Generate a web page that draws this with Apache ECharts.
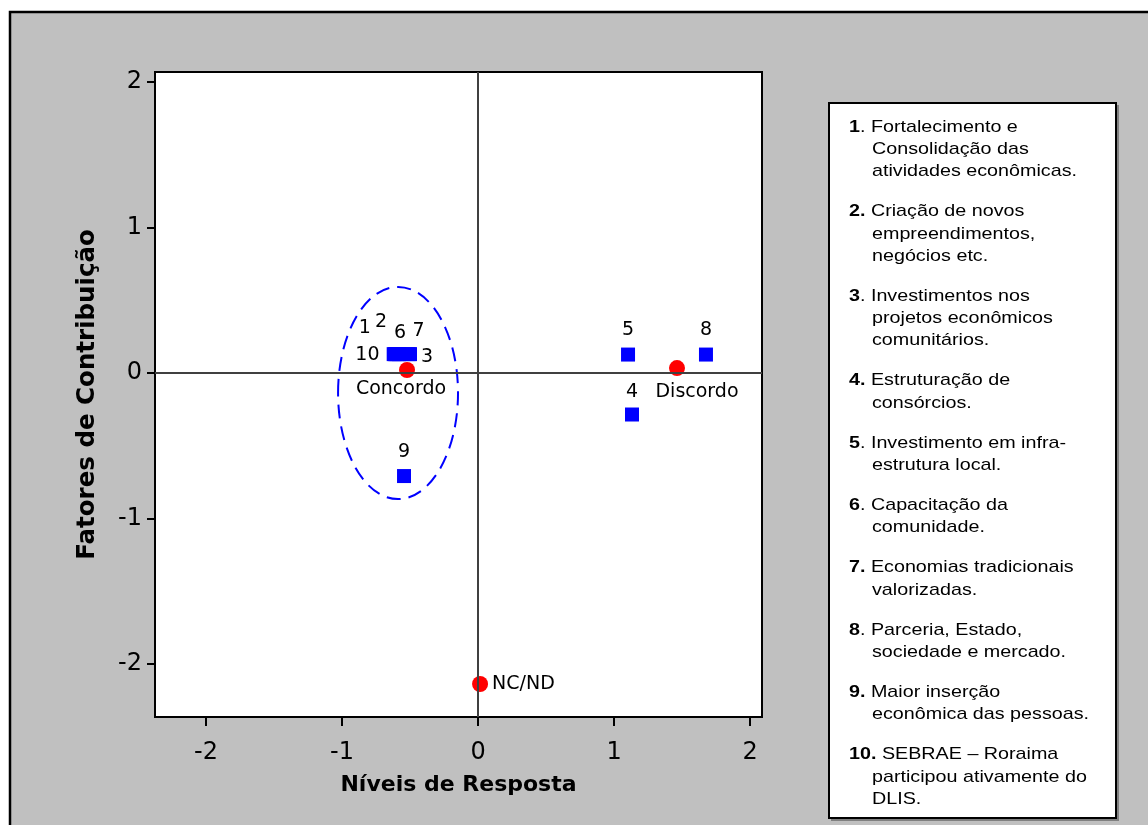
<!doctype html>
<html lang="pt">
<head>
    <meta charset="UTF-8">
    <title>Fatores de Contribuição x Níveis de Resposta</title>
    <style>
        html, body { margin: 0; padding: 0; background: #fff; }
        #main { width: 1148px; height: 825px; }
    </style>
</head>
<body>
    <div id="main"></div>
    <script src="https://cdn.jsdelivr.net/npm/echarts@6/dist/echarts.min.js"></script>
    <script>
    // ticks
    var xTicks = [-2, -1, 0, 1, 2];
    var yTicks = [-2, -1, 0, 1, 2];

    // itens (quadrados azuis)
    var itemNames = ['1', '2', '3', '4', '5', '6', '7', '8', '9', '10'];
    var itemX = [-0.62, -0.61, -0.50, 1.132, 1.103, -0.58, -0.51, 1.676, -0.544, -0.60];
    var itemY = [0.13, 0.13, 0.13, -0.285, 0.127, 0.13, 0.13, 0.127, -0.708, 0.13];

    // níveis de resposta (círculos vermelhos)
    var groupNames = ['Concordo', 'Discordo', 'NC/ND'];
    var groupX = [-0.522, 1.463, 0.015];
    var groupY = [0.021, 0.034, -2.137];

    // elipse tracejada: centro x, centro y, raio x, raio y
    var ellipseParams = [-0.588, -0.137, 0.441, 0.729];

    // legenda
    var legendBold = ['1', '2.', '3', '4.', '5', '6', '7.', '8', '9.', '10.'];
    var legendLines = [
        ['. Fortalecimento e', 'Consolidação das', 'atividades econômicas.'],
        [' Criação de novos', 'empreendimentos,', 'negócios etc.'],
        ['. Investimentos nos', 'projetos econômicos', 'comunitários.'],
        [' Estruturação de', 'consórcios.'],
        ['. Investimento em infra-', 'estrutura local.'],
        ['. Capacitação da', 'comunidade.'],
        [' Economias tradicionais', 'valorizadas.'],
        ['. Parceria, Estado,', 'sociedade e mercado.'],
        [' Maior inserção', 'econômica das pessoas.'],
        [' SEBRAE – Roraima', 'participou ativamente do', 'DLIS.']
    ];

    // deslocamento dos rótulos em px
    var itemLabelOffset = {
        '1': [-29, -26], '2': [-14, -32], '3': [17, 3], '4': [0, -22], '5': [0, -24],
        '6': [1, -21], '7': [10, -23], '8': [0, -24], '9': [0, -24], '10': [-29, 1]
    };
    var groupLabelOffset = { 'Concordo': [-6, 19], 'Discordo': [20, 24] };

    var labelFont = 'DejaVu Sans';
    var legendFont = 'Liberation Sans';

    var squares = itemNames.map(function (n, i) {
        return {
            name: n,
            value: [itemX[i], itemY[i]],
            label: { offset: itemLabelOffset[n] }
        };
    });
    var circles = groupNames.map(function (n, i) {
        var d = { name: n, value: [groupX[i], groupY[i]] };
        if (groupLabelOffset[n]) {
            d.label = { position: 'inside', offset: groupLabelOffset[n] };
        }
        return d;
    });

    // fundo e caixa da legenda
    var graphics = [
        {
            type: 'rect', z: -100, silent: true,
            shape: { x: 10, y: 12, width: 1200, height: 900 },
            style: { fill: '#c0c0c0', stroke: '#000', lineWidth: 2.5 }
        },
        {
            type: 'rect', z: -50, silent: true,
            shape: { x: 831, y: 105, width: 288, height: 716 },
            style: { fill: '#808080' }
        },
        {
            type: 'rect', z: -40, silent: true,
            shape: { x: 829, y: 103, width: 287, height: 715 },
            style: { fill: '#fff', stroke: '#000', lineWidth: 2 }
        }
    ];
    var lineH = 22.3, gap = 17.7, ly = 127;
    legendLines.forEach(function (lines, i) {
        graphics.push({
            type: 'text', x: 849, y: ly, scaleX: 1.16, silent: true,
            style: {
                text: '{b|' + legendBold[i] + '}{r|' + lines[0] + '}',
                verticalAlign: 'middle',
                fill: '#000',
                rich: {
                    b: { fontFamily: legendFont, fontSize: 17, fontWeight: 'bold', fill: '#000' },
                    r: { fontFamily: legendFont, fontSize: 17, fill: '#000' }
                }
            }
        });
        for (var k = 1; k < lines.length; k++) {
            graphics.push({
                type: 'text', x: 872, y: ly + k * lineH, scaleX: 1.16, silent: true,
                style: {
                    text: lines[k], fontFamily: legendFont, fontSize: 17,
                    verticalAlign: 'middle', fill: '#000'
                }
            });
        }
        ly += lines.length * lineH + gap;
    });

    var chart = echarts.init(document.getElementById('main'));
    var option = {
        backgroundColor: '#fff',
        animation: false,
        graphic: graphics,
        grid: {
            left: 155, top: 72, width: 607, height: 645,
            show: true, backgroundColor: '#fff', borderColor: '#000', borderWidth: 2
        },
        xAxis: {
            type: 'value', min: -2.375, max: 2.088,
            name: 'Níveis de Resposta', nameLocation: 'middle', nameGap: 57,
            nameTextStyle: { fontFamily: labelFont, fontWeight: 'bold', fontSize: 22, color: '#000' },
            axisLine: { show: true, onZero: false, lineStyle: { color: '#000', width: 2 } },
            axisTick: { show: true, customValues: xTicks, length: 9, lineStyle: { color: '#000', width: 2 } },
            axisLabel: { customValues: xTicks, fontFamily: labelFont, fontSize: 24, color: '#000', margin: 24 },
            splitLine: { show: false }
        },
        yAxis: {
            type: 'value', min: -2.364, max: 2.069,
            name: 'Fatores de Contribuição', nameLocation: 'middle', nameGap: 55,
            nameTextStyle: { fontFamily: labelFont, fontWeight: 'bold', fontSize: 24.5, color: '#000' },
            axisLine: { show: true, onZero: false, lineStyle: { color: '#000', width: 2 } },
            axisTick: { show: true, customValues: yTicks, length: 8, lineStyle: { color: '#000', width: 2 } },
            axisLabel: { customValues: yTicks, fontFamily: labelFont, fontSize: 24, color: '#000', margin: 13 },
            splitLine: { show: false }
        },
        series: [
            {
                type: 'scatter', z: 1, data: [], silent: true,
                markLine: {
                    silent: true, symbol: 'none', animation: false,
                    label: { show: false },
                    lineStyle: { color: '#404040', width: 2, type: 'solid' },
                    data: [{ xAxis: 0 }, { yAxis: 0 }]
                }
            },
            {
                type: 'custom', z: 2, silent: true,
                data: [ellipseParams],
                renderItem: function (params, api) {
                    var c = api.coord([api.value(0), api.value(1)]);
                    var s = api.size([api.value(2), api.value(3)]);
                    return {
                        type: 'ellipse',
                        shape: { cx: c[0], cy: c[1], rx: s[0], ry: s[1] },
                        style: { fill: 'none', stroke: '#0000ff', lineWidth: 2, lineDash: [14, 8] }
                    };
                }
            },
            {
                type: 'scatter', z: 3, symbol: 'rect', symbolSize: 14,
                itemStyle: { color: '#0000ff', opacity: 1 },
                label: {
                    show: true, position: 'inside', formatter: '{b}',
                    fontFamily: labelFont, fontSize: 19, color: '#000'
                },
                data: squares
            },
            {
                type: 'scatter', z: 4, symbol: 'circle', symbolSize: 16,
                itemStyle: { color: '#ff0000', opacity: 1 },
                label: {
                    show: true, position: 'right', distance: 4, formatter: '{b}',
                    fontFamily: labelFont, fontSize: 19, color: '#000'
                },
                data: circles
            }
        ]
    };
    chart.setOption(option);
    </script>
</body>
</html>
